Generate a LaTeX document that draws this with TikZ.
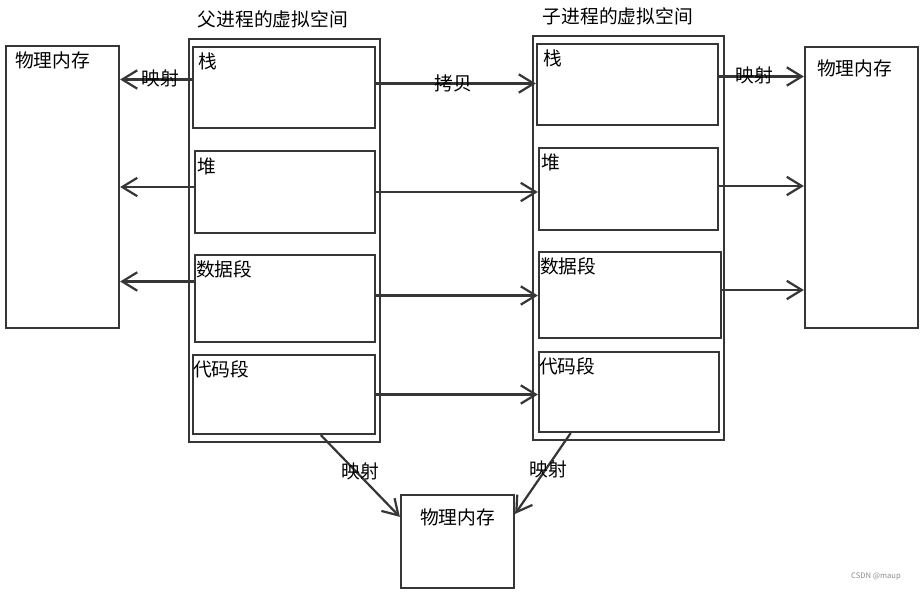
\documentclass[tikz,border=0pt]{standalone}
\usepackage{fontspec}
\setmainfont{Noto Sans CJK SC}
\usepackage{tikz}
\usetikzlibrary{arrows.meta,positioning,calc,fit}
\definecolor{linegray}{HTML}{363636}

\begin{document}
\begin{tikzpicture}[
  x=0.03cm,y=-0.03cm,
  box/.style={draw=linegray,line width=1.9pt,inner sep=0pt},
  txt/.style={inner sep=0pt,font=\fontsize{16}{18}\selectfont,anchor=north west},
  lbl/.style={inner sep=0pt,font=\fontsize{16}{18}\selectfont},
  arr/.style={-{Straight Barb[length=0.45cm,width=0.55cm,line width=1.9pt]},
              draw=linegray,line width=1.9pt}
]
\useasboundingbox (0,0) rectangle (922,592);

% 物理内存
\node[box,fit={(6,46)(119,328)}] (lm) {};
\node[box,fit={(805,47)(918,328)}] (rm) {};
\node[box,fit={(401,495)(514,588)}] (bm) {};
\node[txt] at ([shift={(10,7)}]lm.north west) {物理内存};
\node[txt] at ([shift={(13,14)}]rm.north west) {物理内存};
\node[lbl] at ([shift={(0,24)}]bm.north) {物理内存};

% 父进程
\node[box,fit={(189,39)(380,442)}] (po) {};
\node[lbl,above=8pt of po.north,xshift=-10pt] {父进程的虚拟空间};
\node[box,fit={(193,47)(375,128)}] (ps) {};
\node[box,fit={(195,151)(375,233)}] (ph) {};
\node[box,fit={(195,255)(375,342)}] (pd) {};
\node[box,fit={(193,355)(375,434)}] (pc) {};
\node[txt] at ([shift={(6,7)}]ps.north west) {栈};
\node[txt] at ([shift={(3,8)}]ph.north west) {堆};
\node[txt] at ([shift={(2,7)}]pd.north west) {数据段};
\node[txt] at ([shift={(1,7)}]pc.north west) {代码段};

% 子进程
\node[box,fit={(533,36)(724,440)}] (co) {};
\node[lbl,above=8pt of co.north,xshift=-9pt] {子进程的虚拟空间};
\node[box,fit={(537,44)(718,125)}] (cs) {};
\node[box,fit={(539,148)(718,230)}] (ch) {};
\node[box,fit={(539,252)(721,338)}] (cd) {};
\node[box,fit={(539,352)(719,432)}] (cc) {};
\node[txt] at ([shift={(7,7)}]cs.north west) {栈};
\node[txt] at ([shift={(3,7)}]ch.north west) {堆};
\node[txt] at ([shift={(2,7)}]cd.north west) {数据段};
\node[txt] at ([shift={(1,7)}]cc.north west) {代码段};

% 父进程 -> 左侧物理内存
\draw[arr] ([shift={(0,-8)}]ps.west) coordinate (a1) -- (a1 -| lm.east);
\draw[arr] ([shift={(0,-5)}]ph.west) coordinate (a2) -- (a2 -| lm.east);
\draw[arr] ([shift={(0,-17)}]pd.west) coordinate (a3) -- (a3 -| lm.east);
\node[lbl] at (160,78) {映射};

% 拷贝
\draw[arr] ([shift={(0,-4)}]ps.east) coordinate (b1) -- (b1 -| cs.west);
\draw[arr] (ph.east) -- (ph.east -| ch.west);
\draw[arr] ([shift={(0,-3)}]pd.east) coordinate (b3) -- (b3 -| cd.west);
\draw[arr] (pc.east) -- (pc.east -| cc.west);
\node[lbl] at (453,83) {拷贝};

% 子进程 -> 右侧物理内存
\draw[arr] ([shift={(0,-8)}]cs.east) coordinate (c1) -- (c1 -| rm.west);
\draw[arr] ([shift={(0,-3)}]ch.east) coordinate (c2) -- (c2 -| rm.west);
\draw[arr] ([shift={(0,-5)}]cd.east) coordinate (c3) -- (c3 -| rm.west);
\node[lbl] at (754,75) {映射};

% 代码段 -> 下方物理内存
\draw[arr] ($(pc.south west)!0.70!(pc.south east)$) -- ([shift={(0,23)}]bm.north west);
\draw[arr] ($(cc.south west)!0.18!(cc.south east)$) -- ([shift={(0,20)}]bm.north east);
\node[lbl] at (360,471) {映射};
\node[lbl] at (548,469) {映射};

\node[inner sep=0pt,font=\fontsize{6.5}{8}\selectfont,text=black!45] at (876,577) {CSDN @maup};
\end{tikzpicture}
\end{document}
